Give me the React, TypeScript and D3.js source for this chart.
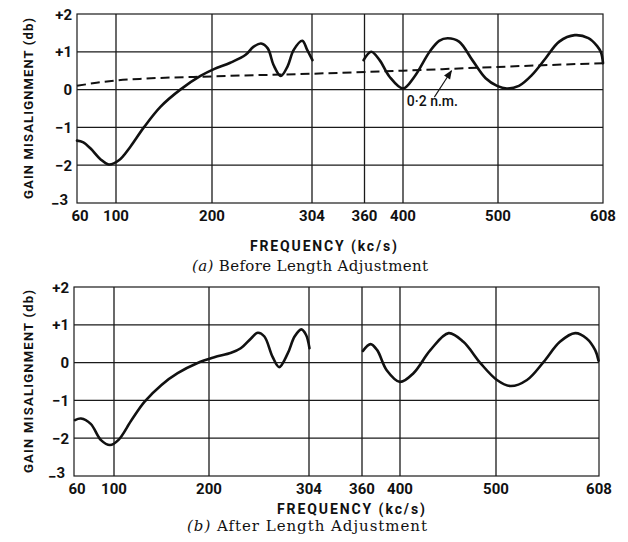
import React from "react";
import * as d3 from "d3";

// ---- data ----
const freqTicks = [60, 100, 200, 304, 360, 400, 500, 608];
const gainTicks = [2, 1, 0, -1, -2, -3];
const gainTickLabels = ["+2", "+1", "0", "−1", "−2", "−3"];

// (a) Before length adjustment, 60–304 kc/s
const beforeLow: [number, number][] = [
  [60, -1.35], [66, -1.39], [74, -1.56], [84, -1.84], [92.6, -1.98], [103, -1.87], [115, -1.51],
  [129, -1.0], [146.5, -0.45], [167, 0.0], [188, 0.36], [202, 0.54], [219, 0.71],
  [235, 0.92], [243, 1.13], [251, 1.22], [258, 1.09], [264, 0.65], [271.5, 0.36],
  [278.5, 0.61], [285, 1.05], [294, 1.29], [299, 1.05], [304.5, 0.78],
];
// (a) Before length adjustment, 360–608 kc/s
const beforeHigh: [number, number][] = [
  [359, 0.78], [367, 1.0], [375.7, 0.78], [386, 0.34], [400, 0.03], [412, 0.34],
  [428, 1.0], [438, 1.29], [447, 1.36], [459, 1.27], [473, 0.78], [487, 0.3],
  [499, 0.1], [509, 0.03], [521.5, 0.1], [535, 0.39], [549, 0.83], [563, 1.27],
  [579, 1.44], [593, 1.36], [602, 1.15], [606, 0.98], [608, 0.7],
];
// (a) 0·2 n.m. dashed reference
const nmLine: [number, number][] = [
  [60, 0.1], [80, 0.18], [100, 0.24], [130, 0.29], [200, 0.35], [304, 0.42],
  [400, 0.5], [500, 0.6], [608, 0.7],
];
// (b) After length adjustment, 60–304 kc/s
const afterLow: [number, number][] = [
  [61, -1.52], [67, -1.48], [76.7, -1.62], [87, -2.05], [96, -2.18], [104.5, -2.05],
  [118.5, -1.52], [132, -1.04], [150, -0.59], [167, -0.28], [188, -0.01], [205.5, 0.14],
  [223, 0.26], [233, 0.38], [243.7, 0.64], [250.7, 0.79], [257.6, 0.69], [266, 0.16],
  [273, -0.12], [282, 0.25], [289, 0.69], [296, 0.88], [301, 0.73], [304.5, 0.38],
];
// (b) After length adjustment, 360–608 kc/s
const afterHigh: [number, number][] = [
  [361, 0.31], [369, 0.49], [376, 0.33], [386, -0.2], [400, -0.51], [414, -0.28],
  [431.6, 0.33], [450.7, 0.78], [466, 0.55], [484, -0.02], [501, -0.46], [515, -0.62],
  [532.5, -0.46], [550, 0.02], [567, 0.55], [583, 0.78], [595, 0.64], [604, 0.33],
  [607.5, 0.05],
];

const yTitle = "GAIN MISALIGNMENT (db)";
const xTitle = "FREQUENCY (kc/s)";
const captionA = ["(a)", "Before Length Adjustment"];
const captionB = ["(b)", "After Length Adjustment"];
const nmLabel = "0·2 n.m.";
// annotation anchor points in data units [freq, gain]
const nmTextAt: [number, number] = [404, -0.43];
const nmArrowFrom: [number, number] = [433, -0.2];
const nmArrowTo: [number, number] = [451, 0.5];

const SANS = "Roboto, 'DejaVu Sans', sans-serif";
const SERIF = "'DejaVu Serif', 'Liberation Serif', serif";

type PanelCfg = {
  xRange: number[];
  top: number;
  bottom: number;
  tickBase: number;
  titleBase: number;
  titleX: number;
  titleLen: number;
  capBase: number;
  capX: number;
  capLen: number;
  yTitleX: number;
  yTitleLen: number;
  caption: string[];
  segments: [number, number][][];
  dashed?: [number, number][];
  annotate?: boolean;
};

function Panel({ c }: { c: PanelCfg }) {
  const x = d3.scaleLinear().domain(freqTicks).range(c.xRange);
  const y = d3.scaleLinear().domain([2, -3]).range([c.top, c.bottom]);
  const solid = d3
    .line<[number, number]>()
    .x((d) => x(d[0]))
    .y((d) => y(d[1]))
    .curve(d3.curveCatmullRom.alpha(0.5));
  const dash = d3
    .line<[number, number]>()
    .x((d) => x(d[0]))
    .y((d) => y(d[1]))
    .curve(d3.curveMonotoneX);
  const left = x(60);
  const right = x(608);
  const midY = (c.top + c.bottom) / 2;
  const tickFont = { fontFamily: SANS, fontWeight: 700, fontSize: 15, fill: "#111" } as const;
  return (
    <g>
      {/* grid */}
      {freqTicks.slice(1, -1).map((f) => (
        <line key={"v" + f} x1={x(f)} x2={x(f)} y1={c.top} y2={c.bottom} stroke="#1a1a1a" strokeWidth={1.3} />
      ))}
      {gainTicks.slice(1, -1).map((g) => (
        <line key={"h" + g} x1={left} x2={right} y1={y(g)} y2={y(g)} stroke="#1a1a1a" strokeWidth={1.3} />
      ))}
      <rect x={left} y={c.top} width={right - left} height={c.bottom - c.top} fill="none" stroke="#1a1a1a" strokeWidth={1.2} />

      {/* y tick labels */}
      {gainTicks.map((g, i) => {
        const lab = gainTickLabels[i];
        if (g === -3) {
          return (
            <text key={"yl" + g} x={left - 9} y={y(g) + 4} textAnchor="end" {...tickFont}>
              <tspan dy={2}>−</tspan>
              <tspan dy={-4}>3</tspan>
            </text>
          );
        }
        return (
          <text key={"yl" + g} x={left - 5} y={y(g) + 5.5} textAnchor="end" {...tickFont}>
            {lab}
          </text>
        );
      })}

      {/* x tick labels */}
      {freqTicks.map((f, i) => (
        <text key={"xl" + f} x={x(f) + (i === 0 ? 3 : 0)} y={c.tickBase} textAnchor="middle" {...tickFont}>
          {f}
        </text>
      ))}

      {/* axis titles */}
      <text x={c.titleX} y={c.titleBase} textAnchor="middle" fontFamily={SANS} fontWeight={700} fontSize={14} fill="#111" textLength={c.titleLen} lengthAdjust="spacing">
        {xTitle}
      </text>
      <text
        transform={`translate(${c.yTitleX},${midY}) rotate(-90)`}
        textAnchor="middle"
        fontFamily={SANS}
        fontWeight={700}
        fontSize={13}
        fill="#111"
        textLength={c.yTitleLen}
        lengthAdjust="spacing"
      >
        {yTitle}
      </text>
      <text x={c.capX} y={c.capBase} textAnchor="middle" fontFamily={SERIF} fontSize={15} fill="#111" textLength={c.capLen} lengthAdjust="spacing">
        <tspan fontStyle="italic">{c.caption[0]}</tspan>
        <tspan>{"  " + c.caption[1]}</tspan>
      </text>

      {/* curves */}
      {c.dashed && (
        <path d={dash(c.dashed) || ""} fill="none" stroke="#111" strokeWidth={2} strokeDasharray="9,5" />
      )}
      {c.segments.map((s, i) => (
        <path
          key={"s" + i}
          d={solid(s) || ""}
          fill="none"
          stroke="#111"
          strokeWidth={2.6}
          strokeLinejoin="round"
          strokeLinecap="round"
        />
      ))}

      {c.annotate && (
        <g>
          <line
            x1={x(nmArrowFrom[0])}
            y1={y(nmArrowFrom[1])}
            x2={x(nmArrowTo[0])}
            y2={y(nmArrowTo[1])}
            stroke="#111"
            strokeWidth={1.1}
            markerEnd="url(#arrowhead)"
          />
          <text x={x(nmTextAt[0])} y={y(nmTextAt[1])} fontFamily={SANS} fontWeight={500} fontSize={14} fill="#111">
            {nmLabel}
          </text>
        </g>
      )}
    </g>
  );
}

const panelA: PanelCfg = {
  xRange: [77, 116, 212, 312, 364.5, 403, 498, 603],
  top: 14,
  bottom: 203,
  tickBase: 221,
  titleBase: 251,
  titleX: 323.5,
  titleLen: 147,
  capBase: 271,
  capX: 310,
  capLen: 236,
  yTitleX: 33,
  yTitleLen: 181,
  caption: captionA,
  segments: [beforeLow, beforeHigh],
  dashed: nmLine,
  annotate: true,
};

const panelB: PanelCfg = {
  xRange: [74, 114, 209, 309, 362, 400, 496, 599],
  top: 287,
  bottom: 476,
  tickBase: 494,
  titleBase: 514,
  titleX: 351,
  titleLen: 148,
  capBase: 531,
  capX: 307,
  capLen: 240,
  yTitleX: 33,
  yTitleLen: 183,
  caption: captionB,
  segments: [afterLow, afterHigh],
};

export default function App() {
  return (
    <svg
      width={628}
      height={542}
      style={{ position: "absolute", left: 0, top: 0, background: "#fff" }}
    >
      <defs>
        <marker id="arrowhead" viewBox="0 0 10 10" refX="9" refY="5" markerWidth="10" markerHeight="9" markerUnits="userSpaceOnUse" orient="auto">
          <path d="M0,1 L10,5 L0,9 Z" fill="#111" />
        </marker>
      </defs>
      <rect width={628} height={542} fill="#fff" />
      <Panel c={panelA} />
      <Panel c={panelB} />
    </svg>
  );
}
